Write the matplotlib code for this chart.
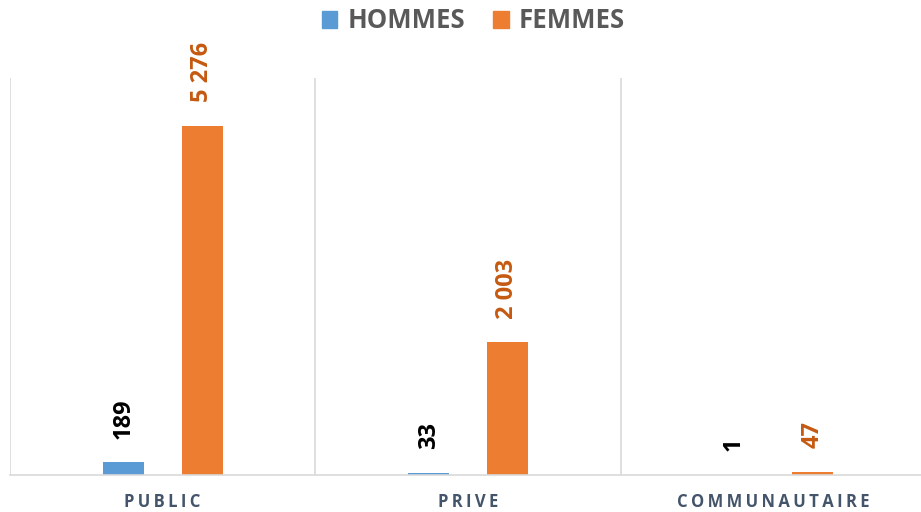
import matplotlib
matplotlib.use("Agg")
import matplotlib.pyplot as plt
import matplotlib.patches as mpatches
import numpy as np

# ─── Données ────────────────────────────────────────────────
categories = ["PUBLIC", "PRIVE", "COMMUNAUTAIRE"]
hommes     = [189, 33, 1]
femmes     = [5276, 2003, 47]
labels_h   = ["189", "33", "1"]
labels_f   = ["5 276", "2 003", "47"]

# ─── Styles ─────────────────────────────────────────────────
C_H      = "#5B9BD5"
C_F      = "#ED7D31"
C_F_TXT  = "#C55A11"
C_CAT    = "#44546A"
C_LEG    = "#595959"
C_GRID   = "#D9D9D9"
FONT     = ["Open Sans", "DejaVu Sans"]

plt.rcParams["font.family"] = FONT

fig = plt.figure(figsize=(9.21, 5.12), dpi=100)
ax = fig.add_axes([10 / 921, 1 - 475 / 512, 916 / 921, 397 / 512])

x = np.arange(len(categories))
w = 0.134
off = 0.129

ax.bar(x - off, hommes, width=w, color=C_H)
ax.bar(x + off, femmes, width=w, color=C_F)

ax.set_xlim(-0.5, len(categories) - 0.5)
ax.set_ylim(0, 6000)

for xi, v, t in zip(x, hommes, labels_h):
    ax.annotate(t, (xi - off, v), xytext=(0, 17), textcoords="offset points",
                rotation=90, ha="center", va="bottom", fontsize=17,
                fontweight="bold", color="black")
for xi, v, t in zip(x, femmes, labels_f):
    ax.annotate(t, (xi + off, v), xytext=(0, 17), textcoords="offset points",
                rotation=90, ha="center", va="bottom", fontsize=17,
                fontweight="bold", color=C_F_TXT)

# séparateurs verticaux entre catégories
for b in np.arange(-0.5, len(categories), 1.0):
    ax.axvline(b, color=C_GRID, linewidth=1.2, zorder=0)

for s in ["top", "right", "left"]:
    ax.spines[s].set_visible(False)
ax.spines["bottom"].set_color(C_GRID)
ax.spines["bottom"].set_linewidth(1.2)

ax.set_yticks([])
ax.set_xticks(x)
ax.set_xticklabels(["\u2009".join(c) for c in categories], fontsize=12,
                   fontweight="bold", color=C_CAT)
ax.tick_params(axis="x", length=0, pad=13)

handles = [mpatches.Patch(color=C_H, label="HOMMES"),
           mpatches.Patch(color=C_F, label="FEMMES")]
fig.legend(handles=handles, loc="center", bbox_to_anchor=(0.514, 1 - 21 / 512),
           ncol=2, frameon=False, prop={"family": FONT, "weight": "bold", "size": 18.5},
           labelcolor=C_LEG, handlelength=0.6, handleheight=0.6,
           handletextpad=0.4, columnspacing=1.1)

fig.savefig("out.png", dpi=100)
